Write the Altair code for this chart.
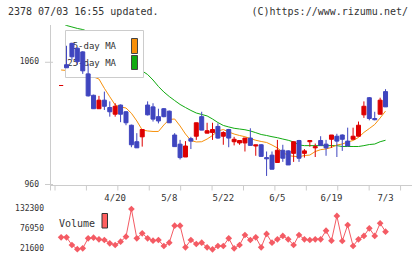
import altair as alt
import pandas as pd

# ---- daily candles (index 0 = 4/6 ... index 60 = 7/3) ----
open_ = [1041, 1058, 1075.5, 1071.5, 1068.5, 1050.5, 1033, 1022, 1029, 1023,
         1017.5, 1025, 1019.5, 1008.5, 995, 999, 1025, 1023.5, 1015.5, 1022,
         1020, 1000.5, 993, 982.5, 997.5, 999.5, 1015.5, 1002, 1002.5, 1007.5,
         999.5, 1005, 995, 994, 994, 998, 991.5, 992.5, 982, 984,
         978, 988, 987.5, 985.5, 996, 985.5, 995, 990, 996, 993,
         997, 999.5, 1000.5, 995.5, 997, 999.5, 1017, 1031, 1014, 1017.5,
         1036]
high = [1041, 1073.5, 1076, 1072, 1069, 1059, 1033.5, 1032.5, 1036, 1028,
        1026.5, 1025.5, 1020, 1009, 1002, 1005, 1028, 1026.5, 1022, 1022.5,
        1020.5, 1002, 996.5, 995.5, 999, 1010.5, 1019.5, 1010.5, 1010.5, 1010,
        1003.5, 1005.5, 999, 996, 998, 1006, 992.5, 993, 987, 987,
        996.5, 992.5, 988, 995, 996.5, 989, 996, 993.5, 999.5, 996.5,
        1000.5, 1001.5, 1001, 1006.5, 1006.5, 1011.5, 1028, 1031.5, 1019.5, 1031,
        1038]
low = [1041, 1055.5, 1062, 1058, 1050.5, 1032, 1022, 1022, 1021, 1015.5,
       1015.5, 1011, 1008.5, 990.5, 990, 991, 1016.5, 1011.5, 1010, 1015,
       1010.5, 991, 980.5, 982.5, 989, 996.5, 1004.5, 1002, 996.5, 997.5,
       992.5, 990.5, 992, 992.5, 987, 992, 983.5, 983, 967, 972.5,
       978, 978.5, 976, 978.5, 978.5, 982, 991, 982.5, 992, 983.5,
       990, 982.5, 987.5, 991.5, 997, 999.5, 1014.5, 1012.5, 1012.5, 1017.5,
       1023.5]
close = [1041, 1055.5, 1064.5, 1060.5, 1053, 1032.5, 1022, 1029, 1024, 1019.5,
         1024, 1017.5, 1010.5, 992.5, 990, 1005, 1017, 1013.5, 1012, 1015.5,
         1010.5, 991, 982, 991.5, 995.5, 1010.5, 1004.5, 1004, 1005, 998,
         1002.5, 998, 997, 996, 998, 992, 992.5, 983, 981, 972.5,
         988, 981.5, 976, 995, 981.5, 987.5, 996, 991, 992, 990,
         1000.5, 995.5, 997, 991.5, 999.5, 1008.5, 1024, 1014, 1013, 1029,
         1023.5]

# ---- moving averages ----
ma5 = [1053.7, 1053.3, 1052.9, 1053.7, 1053.7, 1051.2, 1048, 1046.3, 1038.7, 1031.8,
       1025.1, 1023.4, 1022.6, 1018.3, 1012, 1004.6, 1003.8, 1003.4, 1003.4, 1008.7,
       1013.2, 1013.6, 1007.9, 1001.3, 996, 994.8, 995, 997.2, 1000.1, 1003.8,
       1005, 1003, 1001.3, 1000.1, 999.1, 997.6, 996.2, 995.2, 994.4, 992.3,
       989.9, 986.4, 983.6, 983.1, 982.7, 983.7, 984.1, 987, 988.5, 989.1,
       990.3, 992.3, 993.1, 994.8, 996, 998.5, 1002.6, 1005.8, 1009.1, 1014.4,
       1020.1]
ma25 = [1092.5, 1090.1, 1088.9, 1087.7, 1086.8, 1085.2, 1083.2, 1080.7, 1077.8, 1075,
        1071.7, 1068, 1064.3, 1060.2, 1056.6, 1052.9, 1050, 1045.5, 1040.2, 1035.7,
        1032, 1028.7, 1025.5, 1023, 1020.6, 1018.5, 1017.3, 1016.1, 1013.6, 1010.7,
        1008.3, 1007.1, 1006, 1005.4, 1004.8, 1003.8, 1002.4, 1000.9, 1000.1, 999.1,
        998.3, 997.2, 996.2, 994.8, 992.3, 991.8, 991.8, 991.8, 991.8, 991.8,
        991.8, 991.8, 991.1, 991.1, 991.1, 991.1, 991.8, 992.7, 993.1, 995,
        996.2]

# ---- volume ----
volume = [54600, 54600, 33400, 22000, 24350, 51850, 53500, 49100, 47200, 38100,
          33400, 42500, 56250, 132300, 51850, 65600, 51850, 45250, 47200, 30700,
          39750, 86500, 86500, 27100, 47200, 36200, 39750, 27100, 21600, 30700,
          30700, 51850, 24350, 33400, 60900, 47200, 54600, 27100, 63700, 39750,
          49100, 58200, 49100, 33400, 60900, 49100, 47200, 49100, 49100, 72750,
          45250, 113200, 44400, 88400, 30700, 49100, 58200, 79350, 58200, 93100,
          70000]

# ---- axis labels ----
date_labels = ["4/20", "5/8", "5/22", "6/5", "6/19", "7/3"]
date_label_idx = [10, 20, 30, 40, 50, 60]
price_ticks = [960, 1060]
price_tick_labels = ["960", "1060"]
vol_tick_values = [21600, 76950, 132300]
vol_tick_labels = ["21600", "76950", "132300"]

MONO = "DejaVu Sans Mono"
RED = "#dd0000"
BLUE = "#3f45bf"
ORANGE = "#f7900a"
GREEN = "#11aa11"
VOLC = "#f45b64"
GRID = "#cccccc"
TXT = "#333333"

XLO, XHI = -1.13, 63.6
XTICK_STEP = 5.81
x_tick_vals = [round(XLO + k * XTICK_STEP, 3) for k in range(12)]

n = len(close)
df = pd.DataFrame({
    "idx": list(range(n)),
    "open": open_, "high": high, "low": low, "close": close,
    "ma5": ma5, "ma25": ma25, "vol": volume,
})
df["dir"] = ["up" if c >= o else "down" for o, c in zip(open_, close)]
df["top"] = [max(o, c) for o, c in zip(open_, close)]
df["bot"] = [min(o, c) for o, c in zip(open_, close)]

xscale = alt.Scale(domain=[XLO, XHI], nice=False, zero=False)
pscale = alt.Scale(domain=[960, 1090.5], nice=False, zero=False)
vscale = alt.Scale(domain=[21600, 132300], range=[224.3, 184], nice=False, zero=False)
cscale = alt.Scale(domain=["up", "down"], range=[RED, BLUE])


def xenc():
    return alt.X("idx:Q", scale=xscale, axis=None, title=None)


def pY(field):
    return alt.Y(field, scale=pscale, axis=None, title=None)


base = alt.Chart(df)
one = pd.DataFrame({"k": [0]})

# axis frame: left and bottom lines, tick marks, labels
y_line = alt.Chart(one).mark_rule(color=GRID, strokeWidth=1).encode(
    x=alt.value(0.5), y=alt.value(0), y2=alt.value(165.5))
x_line = alt.Chart(one).mark_rule(color=GRID, strokeWidth=1).encode(
    x=alt.value(0), x2=alt.value(362), y=alt.value(160.5))
xt_df = pd.DataFrame({"idx": x_tick_vals})
x_ticks = alt.Chart(xt_df).mark_rule(color=GRID, strokeWidth=1).encode(
    x=xenc(), y=alt.value(160.5), y2=alt.value(165.5))
yt_df = pd.DataFrame({"p": price_ticks, "lbl": price_tick_labels})
y_ticks = alt.Chart(yt_df).mark_rule(color=GRID, strokeWidth=1).encode(
    y=pY("p:Q"), x=alt.value(-5), x2=alt.value(3))
y_text = alt.Chart(yt_df).mark_text(font=MONO, fontSize=8, color=TXT, align="right",
                                    baseline="middle").encode(
    y=pY("p:Q"), x=alt.value(-11), text="lbl:N")

ma25_line = base.mark_line(color=GREEN, strokeWidth=1, clip=True).encode(
    x=xenc(), y=pY("ma25:Q"))
ma5_line = base.mark_line(color=ORANGE, strokeWidth=1, clip=True).encode(
    x=xenc(), y=pY("ma5:Q"))

legend_box = alt.Chart(one).mark_rect(fill="white", stroke=GRID, strokeWidth=1).encode(
    x=alt.value(15.5), x2=alt.value(93.5), y=alt.value(5.5), y2=alt.value(52.5))
legend_t1 = alt.Chart(one).mark_text(text="5-day MA", font=MONO, fontSize=9, color=TXT,
                                     align="right", baseline="alphabetic").encode(
    x=alt.value(66), y=alt.value(23.5))
legend_t2 = alt.Chart(one).mark_text(text="25-day MA", font=MONO, fontSize=9, color=TXT,
                                     align="right", baseline="alphabetic").encode(
    x=alt.value(66), y=alt.value(40.5))
sw1 = alt.Chart(one).mark_rect(fill=ORANGE, stroke="#444444", strokeWidth=1).encode(
    x=alt.value(81.5), x2=alt.value(87.5), y=alt.value(13.5), y2=alt.value(28.5))
sw2 = alt.Chart(one).mark_rect(fill=GREEN, stroke="#444444", strokeWidth=1).encode(
    x=alt.value(81.5), x2=alt.value(87.5), y=alt.value(30.5), y2=alt.value(44.5))

wicks = base.mark_rule(strokeWidth=1).encode(
    x=xenc(), y=pY("low:Q"), y2="high:Q",
    color=alt.Color("dir:N", scale=cscale, legend=None))
bodies = base.mark_bar(size=4, strokeWidth=1).encode(
    x=xenc(), y=pY("bot:Q"), y2="top:Q",
    fill=alt.Fill("dir:N", scale=cscale, legend=None),
    stroke=alt.Stroke("dir:N", scale=cscale, legend=None))

lbl_df = pd.DataFrame({"idx": date_label_idx, "lbl": date_labels})
date_text = alt.Chart(lbl_df).mark_text(font=MONO, fontSize=9, color=TXT,
                                        baseline="alphabetic").encode(
    x=xenc(), y=alt.value(176), text="lbl:N")

price = alt.layer(y_line, x_line, x_ticks, y_ticks, y_text,
                  ma25_line, ma5_line, legend_box, legend_t1, legend_t2, sw1, sw2,
                  wicks, bodies, date_text)

vol_line = base.mark_line(color=VOLC, strokeWidth=1).encode(
    x=xenc(), y=alt.Y("vol:Q", scale=vscale, axis=None))
vol_pts = base.mark_point(shape="diamond", filled=True, size=45, color=VOLC, opacity=1).encode(
    x=xenc(), y=alt.Y("vol:Q", scale=vscale, axis=None))
vt_df = pd.DataFrame({"v": vol_tick_values, "lbl": vol_tick_labels})
vol_text = alt.Chart(vt_df).mark_text(font=MONO, fontSize=8, color=TXT, align="right",
                                      baseline="middle").encode(
    x=alt.value(-6), y=alt.Y("v:Q", scale=vscale, axis=None), text="lbl:N")
vol = alt.layer(vol_line, vol_pts, vol_text)

vol_legend_t = alt.Chart(one).mark_text(text="Volume", font=MONO, fontSize=10, color=TXT,
                                        align="left", baseline="alphabetic").encode(
    x=alt.value(9), y=alt.value(201.5))
vol_legend_sw = alt.Chart(one).mark_rect(fill="#ff5f5f", stroke="#333333", strokeWidth=1).encode(
    x=alt.value(52), x2=alt.value(57.5), y=alt.value(188.5), y2=alt.value(203))

title_l = alt.Chart(one).mark_text(text="2378 07/03 16:55 updated.", font=MONO, fontSize=10,
                                   color=TXT, align="left", baseline="alphabetic").encode(
    x=alt.value(-42), y=alt.value(-10))
title_r = alt.Chart(one).mark_text(text="(C)https://www.rizumu.net/", font=MONO, fontSize=10,
                                   color=TXT, align="right", baseline="alphabetic").encode(
    x=alt.value(358), y=alt.value(-10))

chart = alt.layer(price, vol, vol_legend_t, vol_legend_sw, title_l, title_r).resolve_scale(
    y="independent"
).properties(
    width=360, height=159.5,
    autosize=alt.AutoSizeParams(type="none"),
    padding={"left": 50, "top": 25, "right": 10, "bottom": 74.5},
    background="white",
).configure_view(stroke=None)

chart.save("out.html", embed_options={"renderer": "svg", "actions": False})
